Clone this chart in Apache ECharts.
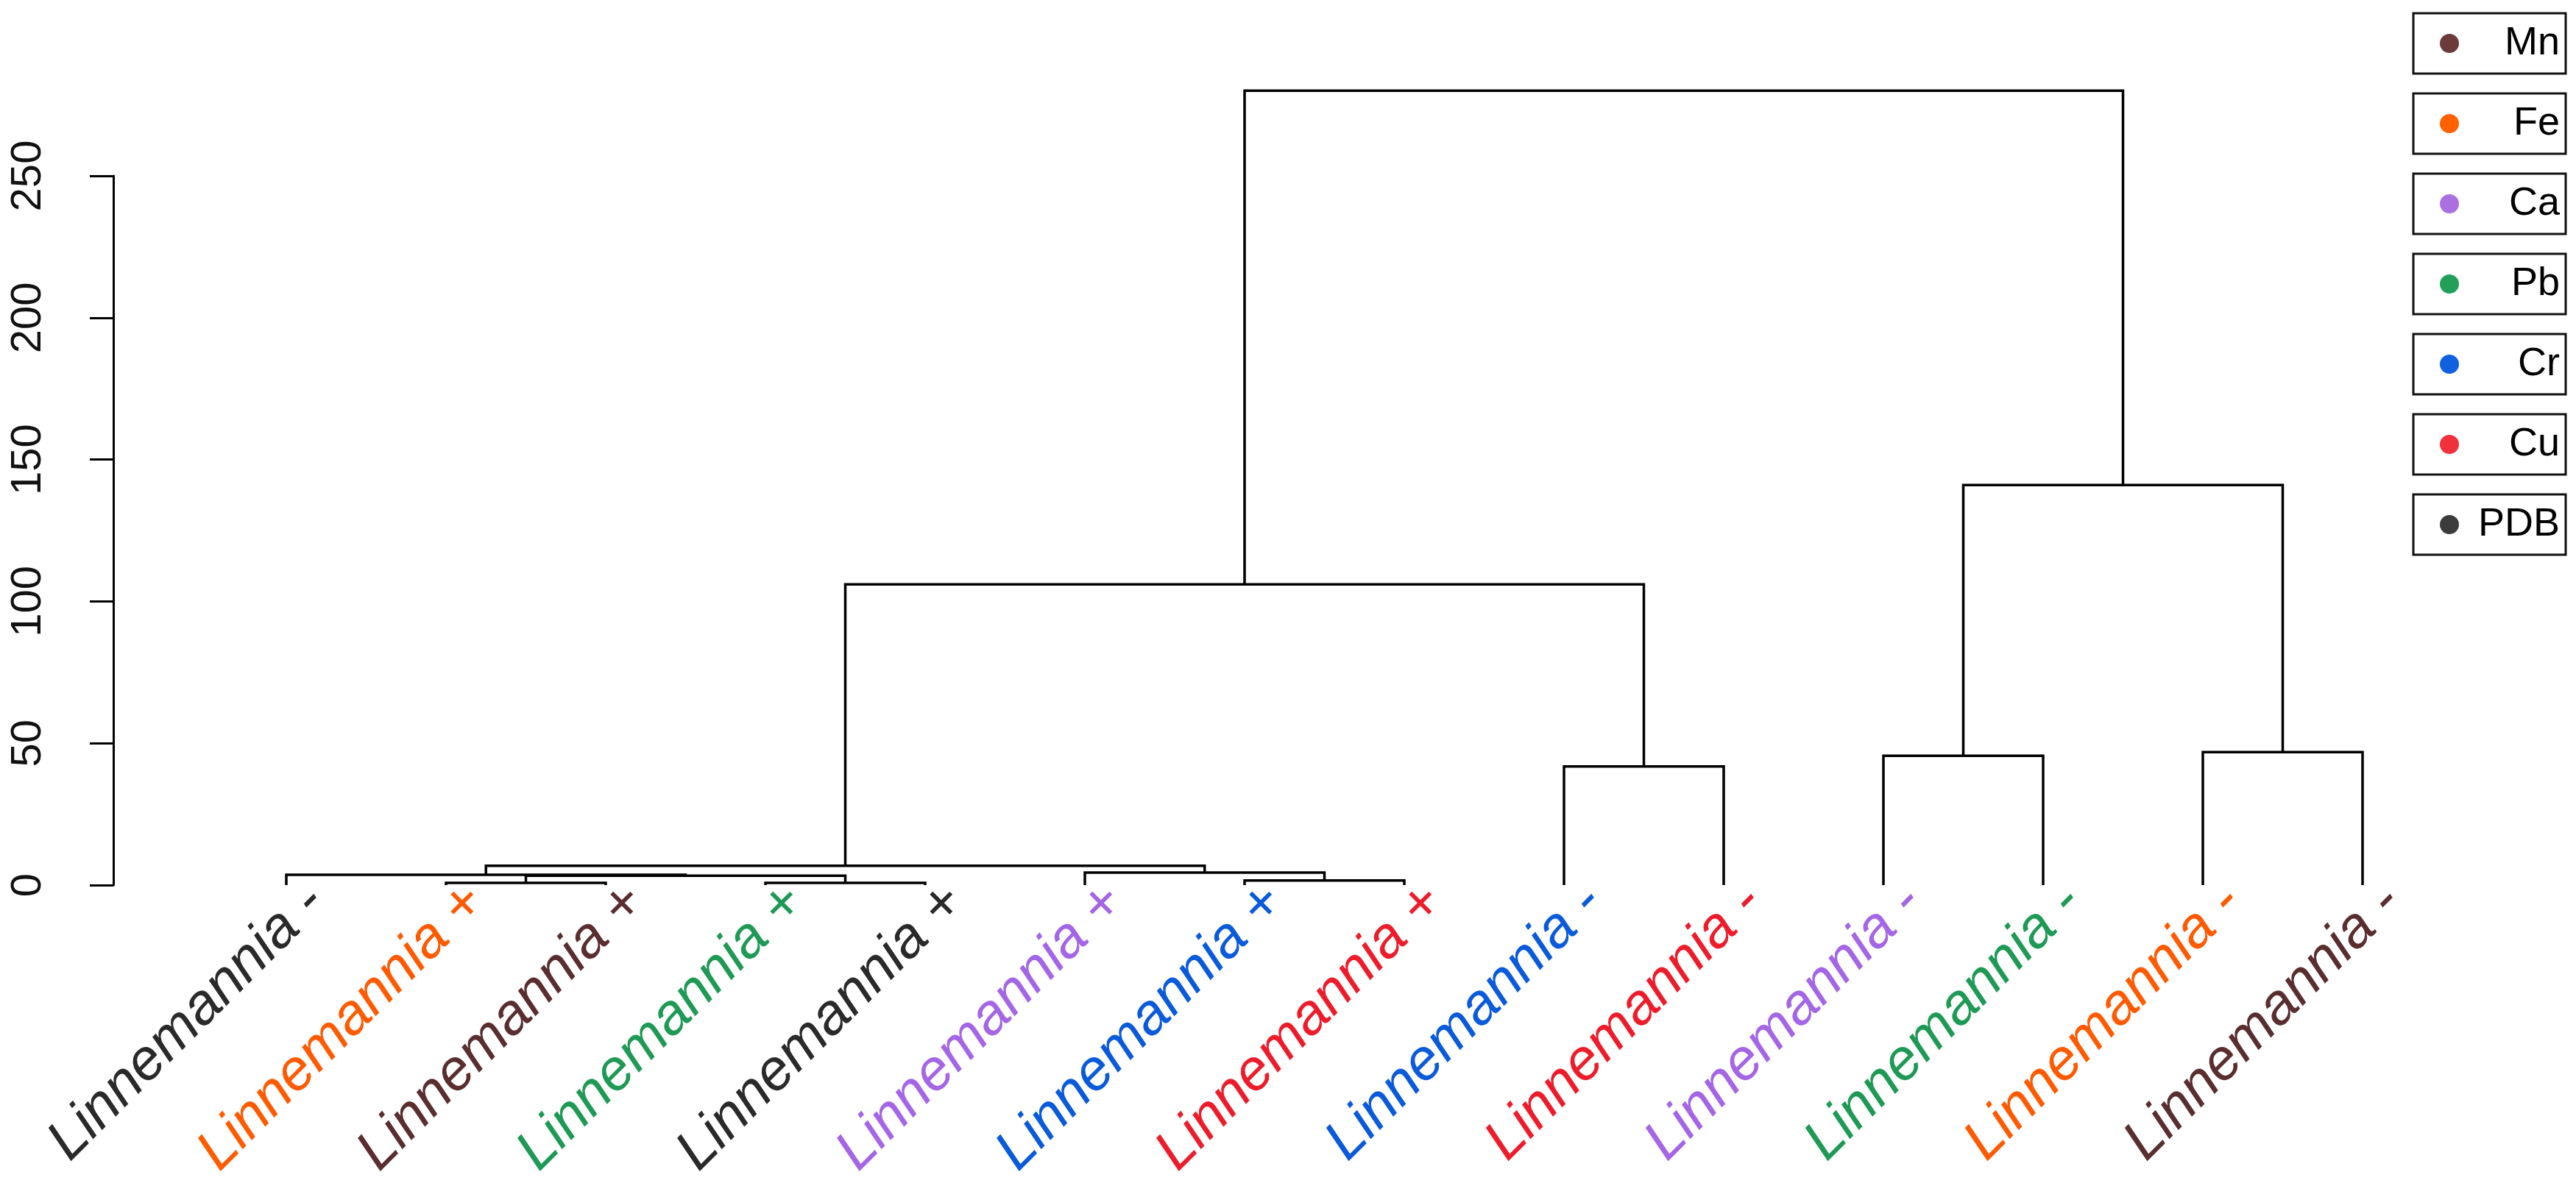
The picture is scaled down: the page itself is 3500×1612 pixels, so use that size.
<!DOCTYPE html>
<html>
<head>
<meta charset="utf-8">
<script src="https://cdn.jsdelivr.net/npm/echarts@6/dist/echarts.min.js"></script>
<style>
html,body{margin:0;padding:0;background:#fff;}
#chart{width:3500px;height:1612px;}
</style>
</head>
<body>
<div id="chart"></div>
<script>
// ---- data ----
const leafName = 'Linnemannia';
const leafSign = ['-','+','+','+','+','+','+','+','-','-','-','-','-','-'];
const leafGroup = ['PDB','Fe','Mn','Pb','PDB','Ca','Cr','Cu','Cr','Cu','Ca','Pb','Fe','Mn'];
const groups = ['Mn','Fe','Ca','Pb','Cr','Cu','PDB'];
const groupColors = ['#6B3A3A','#FF6000','#A970E0','#22A05A','#1060E0','#F0303A','#3C3C3C'];
const labelColors = ['#5A2E2E','#FF5A00','#A465E6','#1E9A55','#0A5ADC','#EE1C2A','#2A2A2A'];
// hclust-style merge table (negative = leaf index, positive = earlier merge)
const mergeA = [-2,-4,-7,1,-1,-6,5,-9,-11,-13,7,9,11];
const mergeB = [-3,-5,-8,2,4,3,6,-10,-12,-14,8,10,12];
const mergeHeight = [0.8,0.8,1.6,3.3,3.6,4.4,6.8,41.8,45.6,46.9,106,141,280];
const yTicks = [0,50,100,150,200,250];

const FONT = '"Liberation Sans", Arial, sans-serif';

// build dendrogram segments from the merge table
const centers = [];
function nodePos(ref){
  if (ref < 0) return {x: -ref, h: 0};
  return {x: centers[ref-1], h: mergeHeight[ref-1]};
}
const segs = [];
for (let i = 0; i < mergeA.length; i++){
  const a = nodePos(mergeA[i]), b = nodePos(mergeB[i]);
  centers.push((a.x + b.x) / 2);
  segs.push([a.x, a.h, b.x, b.h, mergeHeight[i]]);
}
const leafRows = leafSign.map((s,i) => [i+1, 0, i]);

const chart = echarts.init(document.getElementById('chart'), null, {renderer:'canvas'});
const option = {
  backgroundColor:'#fff',
  animation:false,
  grid:{left:172, right:73, top:239, bottom:409},
  xAxis:{
    type:'value', min:0, max:15, interval:1,
    axisLine:{show:false}, axisTick:{show:false}, splitLine:{show:false},
    axisLabel:{show:false}
  },
  yAxis:{
    type:'value', min:0, max:250, interval:50, offset:18,
    axisLine:{show:true, onZero:false, lineStyle:{color:'#000', width:3}},
    axisTick:{show:true, length:32, lineStyle:{color:'#000', width:3}},
    splitLine:{show:false},
    axisLabel:{rotate:90, margin:86, fontSize:58, color:'#111', fontFamily:FONT,
      customValues: yTicks}
  },
  legend: groups.map((g,k) => ({
    data:[g], left:3279, top:18 + k*109, orient:'vertical',
    padding:[14,8,14,36], borderColor:'#111', borderWidth:3,
    itemWidth:26, itemHeight:26, icon:'circle', selectedMode:false,
    formatter:'{t|{name}}',
    textStyle:{fontSize:54, color:'#000', fontFamily:FONT,
      rich:{t:{fontSize:54, color:'#000', fontFamily:FONT, width:132, align:'right', lineHeight:56}}}
  })),
  series: [
    {
      type:'custom', clip:false, silent:true,
      data: segs,
      encode:{x:[0,2], y:[1,3,4]},
      renderItem:(params, api) => {
        const p1 = api.coord([api.value(0), api.value(1)]);
        const p2 = api.coord([api.value(0), api.value(4)]);
        const p3 = api.coord([api.value(2), api.value(4)]);
        const p4 = api.coord([api.value(2), api.value(3)]);
        return {
          type:'polyline',
          shape:{points:[p1,p2,p3,p4]},
          style:{stroke:'#000', lineWidth:3.5, fill:null}
        };
      }
    },
    {
      type:'custom', clip:false, silent:true,
      data: leafRows,
      encode:{x:0, y:1},
      renderItem:(params, api) => {
        const i = api.value(2);
        const p = api.coord([api.value(0), api.value(1)]);
        const k = groups.indexOf(leafGroup[i]);
        return {
          type:'text',
          x: p[0] + 40, y: p[1] + 12,
          rotation: Math.PI / 4,
          style:{
            text: leafName + ' ' + leafSign[i],
            fill: labelColors[k],
            font: 'italic 78px ' + FONT,
            align:'right', verticalAlign:'middle'
          }
        };
      }
    }
  ].concat(groups.map((g,k) => ({
    type:'scatter', name:g, data:[], itemStyle:{color:groupColors[k], opacity:1}
  })))
};
chart.setOption(option);
</script>
</body>
</html>
